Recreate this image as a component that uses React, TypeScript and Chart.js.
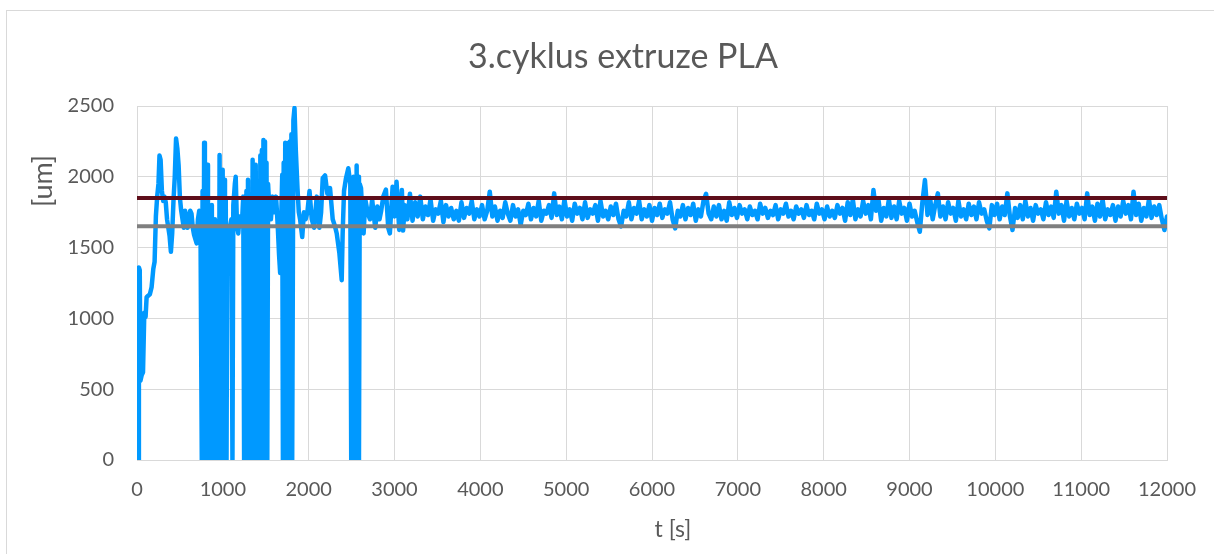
import React, { useEffect, useRef } from "react";
import { Chart, registerables } from "chart.js";

Chart.register(...registerables);

const chartTitle = "3.cyklus extruze PLA";
const xAxisTitle = "t [s]";
const yAxisTitle = "[um]";

const xMin = 0;
const xMax = 12000;
const xStep = 1000;
const yMin = 0;
const yMax = 2500;
const yStep = 500;

const upperLimit = 1850;
const lowerLimit = 1650;

// early, unstable part of the run (time in s, thickness in um)
const earlyTimes = [
  0, 15, 22, 32, 40, 55, 70, 85, 100, 112, 130, 150, 170, 190, 205, 220, 235, 250, 262, 275,
  290, 305, 320, 335, 350, 365, 380, 395, 410, 425, 440, 455, 470, 485, 500, 515, 530, 545, 560, 575,
  590, 605, 620, 635, 650, 665, 680, 695, 710, 725, 740,
  755, 764, 773, 782, 791, 800, 809, 818, 827, 836, 845, 854, 863, 872, 881, 890, 899, 908, 917, 926,
  935, 944, 953, 962, 971, 980, 989, 998, 1007, 1016, 1025, 1034, 1043, 1052, 1065, 1080,
  1100, 1112, 1122, 1140, 1150, 1165, 1180, 1195, 1210, 1225, 1238,
  1248, 1257, 1266, 1275, 1284, 1293, 1302, 1311, 1320, 1329, 1338, 1347, 1356, 1365, 1374, 1383, 1392, 1401, 1410, 1419,
  1428, 1437, 1446, 1455, 1464, 1473, 1482, 1491, 1500, 1509, 1518, 1527,
  1540, 1560, 1580, 1600, 1620, 1640, 1655, 1668, 1680, 1692,
  1700, 1709, 1718, 1727, 1736, 1745, 1754, 1763, 1772, 1781, 1790, 1799, 1808,
  1822, 1835, 1850, 1870, 1885, 1900, 1925, 1945, 1965, 1985, 2010, 2036, 2063, 2094, 2125, 2145, 2164, 2191, 2218, 2249,
  2280, 2307, 2327, 2358, 2385, 2396, 2412, 2435, 2462, 2485,
  2496, 2505, 2514, 2523, 2532, 2541, 2550, 2559, 2568, 2577, 2586, 2595,
  2610, 2625, 2640, 2660, 2690, 2714, 2740, 2760, 2776, 2800, 2825, 2845, 2869, 2900, 2927, 2946, 2978, 3000, 3024, 3055,
  3086, 3100,
];

const earlyValues = [
  0, 0, 1360, 1340, 560, 600, 620, 1040, 1010, 1150, 1160, 1170, 1220, 1350, 1400, 1720, 1860, 1950, 2150, 2120,
  1900, 1830, 1860, 1820, 1700, 1640, 1580, 1470, 1600, 1830, 2000, 2270, 2200, 2080, 1850, 1760, 1700, 1640, 1760, 1690,
  1640, 1720, 1760, 1740, 1640, 1590, 1560, 1530, 1700, 1760, 1620,
  0, 1900, 0, 2240, 0, 1860, 0, 2085, 0, 1650, 0, 1750, 0, 1800, 0, 1600, 0, 1700, 0, 1650,
  0, 895, 0, 2154, 0, 1800, 0, 2050, 0, 1980, 0, 1850, 0, 1650, 1600, 1640,
  1700, 0, 1800, 1950, 2000, 1650, 1600, 1720, 1650, 1700, 1860,
  0, 1800, 0, 1900, 0, 1980, 0, 1850, 0, 1750, 0, 2120, 0, 2000, 0, 2085, 0, 1800, 0, 1900,
  0, 2150, 0, 2190, 0, 2260, 0, 2250, 0, 2100, 0, 1950,
  1800, 1700, 1860, 1750, 1860, 1650, 1450, 1320, 1700, 2014,
  0, 2100, 0, 2240, 0, 2200, 0, 2240, 0, 2250, 0, 2300, 0,
  2400, 2486, 2190, 1916, 1750, 1700, 1575, 1750, 1700, 1750, 1900, 1700, 1640, 1860, 1640, 1750, 1990, 2010, 1880, 1920,
  1700, 1650, 1600, 1460, 1270, 1600, 1900, 1990, 2060, 1950,
  0, 1900, 0, 2000, 0, 1950, 0, 2080, 0, 2000, 0, 1950,
  1920, 1740, 1600, 1840, 1740, 1700, 1840, 1720, 1640, 1790, 1700, 1760, 1860, 1910, 1640, 1600, 1930, 1720, 1965, 1625,
  1907, 1620,
];

// steady part: one reading every 30 s from 3120 s
const steadyStart = 3120;
const steadyInterval = 30;
const steadyValues = [
  1800, 1700, 1880, 1690, 1820, 1720, 1860, 1700, 1790, 1730,
  1840, 1690, 1770, 1740, 1830, 1680, 1800, 1720, 1780, 1700,
  1760, 1690, 1820, 1710, 1780, 1740, 1830, 1700, 1770, 1720,
  1800, 1700, 1760, 1895, 1720, 1790, 1690, 1760, 1710, 1820,
  1740, 1690, 1800, 1720, 1770, 1660, 1760, 1730, 1810, 1700,
  1780, 1720, 1830, 1690, 1760, 1740, 1800, 1710, 1883, 1730,
  1790, 1700, 1840, 1720, 1770, 1690, 1810, 1740, 1780, 1700,
  1820, 1710, 1770, 1740, 1800, 1690, 1830, 1720, 1760, 1700,
  1790, 1730, 1810, 1700, 1650, 1760, 1720, 1820, 1700, 1780,
  1740, 1830, 1700, 1770, 1720, 1800, 1690, 1780, 1730, 1810,
  1710, 1770, 1740, 1820, 1700, 1636, 1760, 1720, 1800, 1700,
  1780, 1730, 1810, 1690, 1770, 1720, 1830, 1880, 1740, 1700,
  1790, 1720, 1800, 1700, 1760, 1690, 1820, 1730, 1780, 1710,
  1800, 1740, 1770, 1700, 1790, 1730, 1760, 1700, 1810, 1740,
  1780, 1710, 1760, 1730, 1800, 1700, 1770, 1740, 1810, 1720,
  1760, 1700, 1790, 1740, 1770, 1710, 1800, 1730, 1760, 1700,
  1810, 1740, 1770, 1700, 1790, 1720, 1760, 1710, 1800, 1740,
  1780, 1690, 1820, 1730, 1840, 1700, 1770, 1720, 1830, 1740,
  1800, 1700, 1907, 1760, 1830, 1690, 1780, 1720, 1840, 1710,
  1790, 1700, 1830, 1740, 1780, 1690, 1810, 1720, 1760, 1680,
  1612, 1820, 1977, 1730, 1850, 1700, 1800, 1883, 1720, 1790,
  1700, 1820, 1740, 1780, 1690, 1830, 1720, 1770, 1700, 1810,
  1730, 1790, 1700, 1820, 1740, 1770, 1690, 1636, 1800, 1730,
  1810, 1700, 1790, 1730, 1883, 1720, 1624, 1780, 1710, 1800,
  1700, 1830, 1720, 1780, 1690, 1800, 1740, 1770, 1700, 1820,
  1730, 1790, 1710, 1895, 1740, 1800, 1690, 1830, 1720, 1780,
  1700, 1810, 1740, 1780, 1700, 1883, 1730, 1790, 1690, 1810,
  1720, 1840, 1700, 1770, 1730, 1800, 1690, 1790, 1720, 1830,
  1740, 1800, 1700, 1895, 1730, 1810, 1690, 1780, 1720, 1840,
  1710, 1790, 1730, 1800, 1700, 1624, 1720,
];

const FONT = "Lato, 'Open Sans', sans-serif";
const TEXT_COLOR = "#595959";
const GRID_COLOR = "#d9d9d9";

export default function App() {
  const canvasRef = useRef<HTMLCanvasElement | null>(null);

  useEffect(() => {
    const canvas = canvasRef.current;
    if (!canvas) return;

    const measured = [
      ...earlyTimes.map((t, i) => ({ x: t, y: earlyValues[i] })),
      ...steadyValues.map((v, i) => ({ x: steadyStart + i * steadyInterval, y: v })),
    ];

    const framePlugin = {
      id: "frame",
      beforeDraw(chart: any) {
        const ctx = chart.ctx;
        ctx.save();
        ctx.fillStyle = "#ffffff";
        ctx.fillRect(0, 0, chart.width, chart.height);
        ctx.strokeStyle = GRID_COLOR;
        ctx.lineWidth = 1;
        ctx.strokeRect(6.5, 10.5, chart.width + 20, chart.height + 20);
        ctx.restore();
      },
      afterDraw(chart: any) {
        const ctx = chart.ctx;
        const area = chart.chartArea;
        ctx.save();
        ctx.fillStyle = TEXT_COLOR;
        ctx.textAlign = "center";
        ctx.textBaseline = "middle";
        ctx.font = `34px ${FONT}`;
        ctx.fillText(chartTitle, 623, 57);
        ctx.font = `23px ${FONT}`;
        ctx.fillText(xAxisTitle, area.left + (area.right - area.left) / 2 + 21, area.bottom + 70);
        ctx.font = `27px ${FONT}`;
        ctx.translate(43, area.top + 75);
        ctx.rotate(-Math.PI / 2);
        ctx.fillText(yAxisTitle, 0, 0);
        ctx.restore();
      },
    };

    const plainTick = (value: any) => String(value);

    const chart = new Chart(canvas, {
      type: "line",
      data: {
        datasets: [
          {
            label: "measured",
            data: measured,
            borderColor: "#0099ff",
            borderWidth: 4.5,
            pointRadius: 0,
            tension: 0,
            borderJoinStyle: "round",
            borderCapStyle: "round",
            order: 3,
          },
          {
            label: "upper",
            data: [
              { x: xMin, y: upperLimit },
              { x: xMax, y: upperLimit },
            ],
            borderColor: "#5e0e1a",
            borderWidth: 4,
            pointRadius: 0,
            order: 1,
          },
          {
            label: "lower",
            data: [
              { x: xMin, y: lowerLimit },
              { x: xMax, y: lowerLimit },
            ],
            borderColor: "#7f7f7f",
            borderWidth: 4,
            pointRadius: 0,
            order: 2,
          },
        ],
      },
      options: {
        responsive: false,
        animation: false,
        devicePixelRatio: 1,
        layout: { padding: { left: 0, right: 44, top: 106, bottom: 0 } },
        plugins: {
          legend: { display: false },
          tooltip: { enabled: false },
          title: { display: false },
        },
        scales: {
          x: {
            type: "linear",
            min: xMin,
            max: xMax,
            afterFit(scale: any) {
              scale.height = 94;
            },
            ticks: {
              stepSize: xStep,
              color: TEXT_COLOR,
              font: { family: FONT, size: 20 },
              padding: 18,
              maxRotation: 0,
              autoSkip: false,
              callback: plainTick,
            },
            grid: { color: GRID_COLOR, lineWidth: 1, drawTicks: false },
            border: { color: GRID_COLOR, width: 1 },
          },
          y: {
            type: "linear",
            min: yMin,
            max: yMax,
            afterFit(scale: any) {
              scale.width = 137;
            },
            ticks: {
              stepSize: yStep,
              color: TEXT_COLOR,
              font: { family: FONT, size: 20 },
              padding: 23,
              callback: plainTick,
            },
            grid: { color: GRID_COLOR, lineWidth: 1, drawTicks: false },
            border: { color: GRID_COLOR, width: 1 },
          },
        },
      },
      plugins: [framePlugin],
    } as any);

    return () => chart.destroy();
  }, []);

  return (
    <div style={{ position: "absolute", left: 0, top: 0, width: 1214, height: 554 }}>
      <canvas ref={canvasRef} width={1214} height={554} />
    </div>
  );
}
